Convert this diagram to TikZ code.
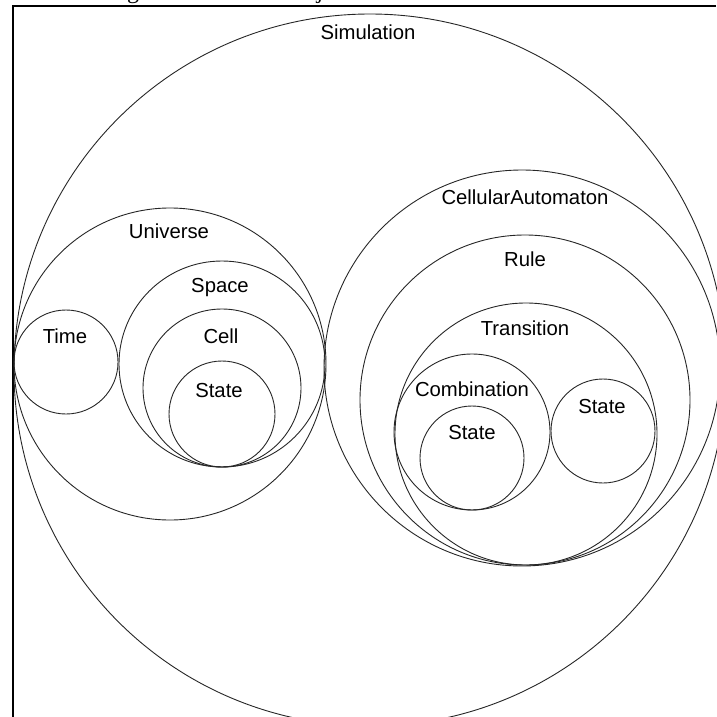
\documentclass[tikz,border=0pt]{standalone}
\usepackage{fontspec}
\newfontfamily\labelfont{Liberation Sans}
\newfontfamily\captionfont{Liberation Serif}
\begin{document}
\begin{tikzpicture}[x=1pt,y=-1pt,
    set/.style={circle, draw=black!85, line width=0.9pt, inner sep=0pt, minimum size=#1},
    lbl/.style={anchor=base, inner sep=0pt, font=\labelfont\fontsize{20.3}{24}\selectfont},
    frameline/.style={line width=2pt, black},
    cut/.style={anchor=base, inner sep=0pt, font=\captionfont\fontsize{24}{28}\selectfont}]
  \useasboundingbox (0,0) rectangle (716,717);

  % tails of the caption line above the frame
  \node[cut] (capg) at (133,-1) {g};
  \node[cut] (capj) at (320,-1) {j};

  % frame
  \coordinate (ftl) at (13,6);
  \coordinate (ftr) at (716,6);
  \coordinate (fbl) at (13,717);
  \draw[frameline] (ftr) -- (ftl) -- (fbl);

  % outer set
  \node[set=712pt] (sim) at (370,370) {};
  \node[lbl] (simL) at (368,40) {Simulation};

  % left group
  \node[set=312pt] (uni) at (170,364) {};
  \node[lbl] (uniL) at (169,238) {Universe};
  \node[set=104pt] (time) at (66,362) {};
  \node[lbl] (timeL) at (65,343) {Time};
  \node[set=206pt] (space) at (222,364) {};
  \node[lbl] (spaceL) at (220,292) {Space};
  \node[set=158pt] (cell) at (222,388) {};
  \node[lbl] (cellL) at (221,343) {Cell};
  \node[set=106pt] (stA) at (222,414) {};
  \node[lbl] (stAL) at (219,397) {State};

  % right group
  \node[set=396pt] (ca) at (522,368) {};
  \node[lbl] (caL) at (525,204) {CellularAutomaton};
  \node[set=330pt] (rule) at (525,400) {};
  \node[lbl] (ruleL) at (525,266) {Rule};
  \node[set=262pt] (trans) at (526,434) {};
  \node[lbl] (transL) at (525,335) {Transition};
  \node[set=156pt] (comb) at (472,432) {};
  \node[lbl] (combL) at (472,396) {Combination};
  \node[set=104pt] (stB) at (472,458) {};
  \node[lbl] (stBL) at (472,439) {State};
  \node[set=104pt] (stC) at (603,431) {};
  \node[lbl] (stCL) at (602,413) {State};
\end{tikzpicture}
\end{document}
